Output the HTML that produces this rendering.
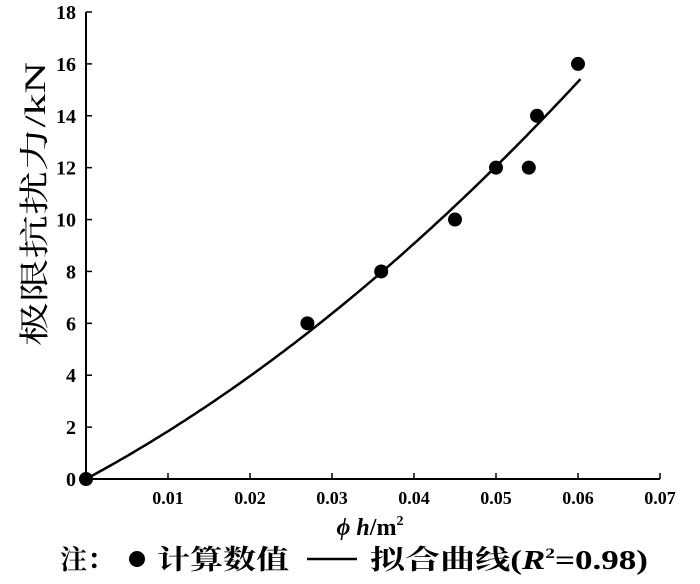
<!DOCTYPE html>
<html><head><meta charset="utf-8"><style>
body{margin:0;background:#fff;width:700px;height:579px;overflow:hidden}
svg text{font-family:"Liberation Serif","Noto Serif CJK SC",serif;fill:#000}
</style></head><body>
<svg id="c" width="700" height="579"></svg>
<script>
const xTicks=[0.01,0.02,0.03,0.04,0.05,0.06,0.07];
const yTicks=[0,2,4,6,8,10,12,14,16,18];
const pointX=[0,0.027,0.036,0.045,0.05,0.054,0.055,0.06];
const pointY=[0,6,8,10,12,12,14,16];
const fitLinear=[170];
const fitQuad=[1420];
const fitRange=[0,0.0603];
const NS="http://www.w3.org/2000/svg";
const svg=document.getElementById('c');
const X0=86,Y0=479,XS=(660-86)/0.07,YS=(479-12)/18;
const sx=v=>X0+v*XS, sy=v=>Y0-v*YS;
function mk(t,a,p){const e=document.createElementNS(NS,t);for(const k in a)e.setAttribute(k,a[k]);(p||svg).appendChild(e);return e;}
let e;
e=mk('line',{x1:X0,y1:Y0,x2:660,y2:Y0,stroke:'#000','stroke-width':2});


e=mk('line',{x1:X0,y1:Y0,x2:X0,y2:12,stroke:'#000','stroke-width':2});


xTicks.forEach(v=>{
 e=mk('line',{x1:sx(v),y1:Y0,x2:sx(v),y2:Y0-6,stroke:'#000','stroke-width':1.5});
 
 
 e=mk('text',{x:sx(v),y:Y0+25,'text-anchor':'middle','font-size':18,'font-weight':'bold'});
 e.textContent=v.toFixed(2);
 
 
});
yTicks.forEach(v=>{
 e=mk('line',{x1:X0,y1:sy(v),x2:X0+6,y2:sy(v),stroke:'#000','stroke-width':1.5});
 
 
 e=mk('text',{x:X0-10,y:sy(v)+7,'text-anchor':'end','font-size':20,'font-weight':'bold'});
 e.textContent=v;
 
 
});
let d='';
for(let i=0;i<=100;i++){const x=fitRange[0]+(fitRange[1]-fitRange[0])*i/100;const y=fitLinear[0]*x+fitQuad[0]*x*x;d+=(i?'L':'M')+sx(x).toFixed(1)+','+sy(y).toFixed(1);}
e=mk('path',{d:d,fill:'none',stroke:'#000','stroke-width':2.5});


pointX.forEach((x,i)=>{
 e=mk('circle',{cx:sx(x),cy:sy(pointY[i]),r:7,fill:'#000'});
 
 
});
e=mk('text',{x:0,y:0,'font-size':30,transform:'translate(45,204) rotate(-90)','text-anchor':'middle','textLength':284,'lengthAdjust':'spacingAndGlyphs'});
e.textContent='极限抗扰力/kN';


e=mk('text',{x:370,y:535,'font-size':24,'font-weight':'bold','text-anchor':'middle'});
e.innerHTML='<tspan font-style="italic">ϕ h</tspan>/m<tspan font-size="14" dy="-10">2</tspan>';


const lg=mk('g',{});


e=mk('text',{x:60,y:569,'font-size':27,'font-weight':'bold'},lg);e.textContent='注：';
e=mk('circle',{cx:137,cy:559,r:8,fill:'#000'},lg);


e=mk('text',{x:157,y:569,'font-size':27,'font-weight':'bold','textLength':132,'lengthAdjust':'spacingAndGlyphs'},lg);e.textContent='计算数值';
e=mk('line',{x1:307,y1:559,x2:357,y2:559,stroke:'#000','stroke-width':2.5},lg);


e=mk('text',{x:370,y:569,'font-size':27,'font-weight':'bold','textLength':278,'lengthAdjust':'spacingAndGlyphs'},lg);
e.innerHTML='拟合曲线(<tspan font-style="italic">R</tspan><tspan font-size="15" dy="-11">2</tspan><tspan dy="11">=0.98)</tspan>';
</script>
</body></html>
